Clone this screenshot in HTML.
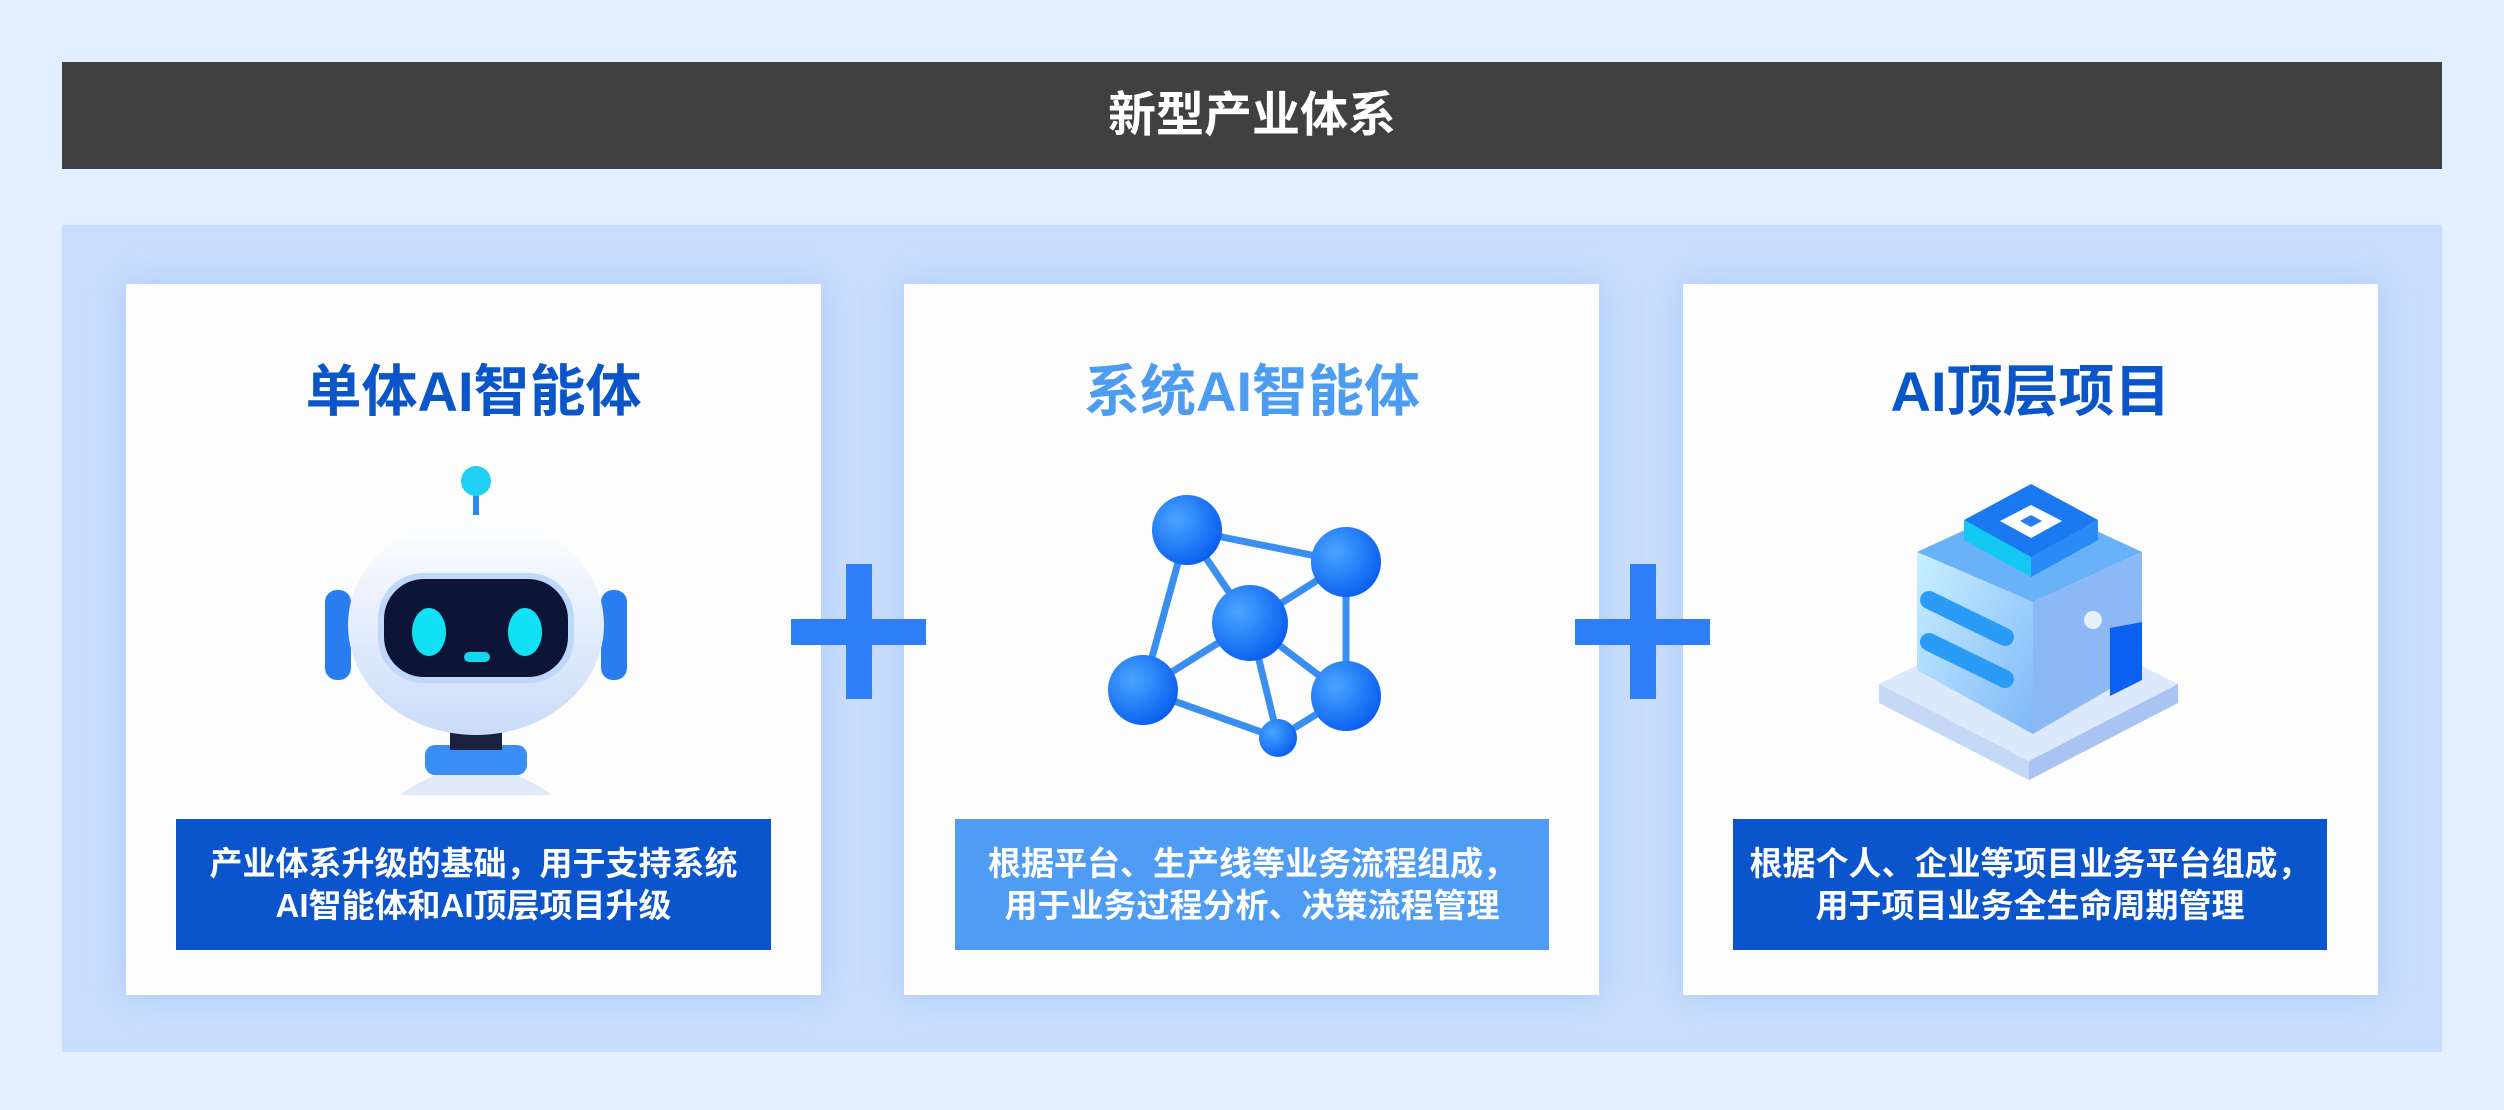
<!DOCTYPE html>
<html><head><meta charset="utf-8"><style>
body{margin:0;width:2504px;height:1110px;background:#e3eefe;position:relative;overflow:hidden;font-family:"Liberation Sans","Noto Sans CJK SC",sans-serif;}
.hdr{position:absolute;left:62px;top:62px;width:2380px;height:107px;background:#404040;color:#fff;font-size:48px;font-weight:bold;text-align:center;line-height:107px;}
.cont{position:absolute;left:62px;top:225px;width:2380px;height:827px;background:#c9ddfc;}
.card{position:absolute;top:284px;width:695px;height:711px;background:#fcfdfc;box-shadow:0 0 30px rgba(150,190,250,.6);}
.t{position:absolute;left:0;width:100%;top:360px;text-align:center;font-size:56px;font-weight:bold;line-height:64px;}
.box{position:absolute;top:819px;height:131px;color:#fff;font-size:33px;font-weight:bold;text-align:center;display:flex;align-items:center;justify-content:center;line-height:42px;white-space:nowrap;}
.pv{position:absolute;left:846px;top:564px;width:26px;height:135px;background:#2e7ef8;}
.ph{position:absolute;left:791px;top:619px;width:135px;height:26px;background:#2e7ef8;}
svg{position:absolute;left:0;top:0;}
</style></head><body>
<div class="hdr">新型产业体系</div>
<div class="cont"></div>
<div class="card" style="left:126px"></div>
<div class="card" style="left:904px"></div>
<div class="card" style="left:1683px"></div>
<div class="t" style="left:126px;width:695px;color:#0a55c8">单体AI智能体</div>
<div class="t" style="left:904px;width:696px;color:#4c9cf2">系统AI智能体</div>
<div class="t" style="left:1683px;width:695px;color:#0a55c8">AI顶层项目</div>
<div class="pv"></div><div class="ph"></div>
<div class="pv" style="left:1630px"></div><div class="ph" style="left:1575px"></div>
<div class="box" style="left:176px;width:595px;background:#0a54cc">产业体系升级的基础，用于支持系统<br>AI智能体和AI顶层项目升级</div>
<div class="box" style="left:955px;width:594px;background:#4f9cf5">根据平台、生产线等业务流程组成，<br>用于业务过程分析、决策流程管理</div>
<div class="box" style="left:1733px;width:594px;background:#0a54cc">根据个人、企业等项目业务平台组成，<br>用于项目业务全生命周期管理</div>
<svg width="2504" height="1110">
<defs>
<linearGradient id="hd" x1="0" y1="0" x2="0" y2="1"><stop offset="0" stop-color="#ffffff"/><stop offset="1" stop-color="#c9dcf8"/></linearGradient>
<radialGradient id="nd" cx="0.35" cy="0.35" r="0.7"><stop offset="0" stop-color="#4aa6ff"/><stop offset="1" stop-color="#0a5ef0"/></radialGradient>
<linearGradient id="bf" x1="0" y1="0" x2="1" y2="1"><stop offset="0" stop-color="#c9f0ff"/><stop offset="1" stop-color="#7fb8f8"/></linearGradient>
</defs>
<line x1="476" y1="485" x2="476" y2="530" stroke="#2a8af0" stroke-width="6"/>
<circle cx="476" cy="481" r="15" fill="#1fd0f4"/>
<path d="M400 795 Q476 740 552 795 Z" fill="#dfe9f8"/>
<rect x="425" y="745" width="102" height="30" rx="10" fill="#3a8df5"/>
<rect x="450" y="725" width="52" height="25" fill="#1a2240"/>
<rect x="325" y="590" width="26" height="90" rx="12" fill="#2a7df0"/>
<rect x="601" y="590" width="26" height="90" rx="12" fill="#2a7df0"/>
<ellipse cx="476" cy="625" rx="128" ry="110" fill="url(#hd)"/>
<rect x="378" y="573" width="196" height="110" rx="45" fill="#bfd7f8"/>
<rect x="384" y="579" width="184" height="98" rx="40" fill="#0c1538"/>
<ellipse cx="429" cy="632" rx="17" ry="24" fill="#10e2f4"/>
<ellipse cx="525" cy="632" rx="17" ry="24" fill="#10e2f4"/>
<rect x="464" y="652" width="26" height="10" rx="5" fill="#10d8f0"/>
<g stroke="#3a8ef0" stroke-width="7">
<line x1="1187" y1="530" x2="1346" y2="562"/><line x1="1187" y1="530" x2="1250" y2="623"/>
<line x1="1346" y1="562" x2="1250" y2="623"/><line x1="1143" y1="690" x2="1250" y2="623"/>
<line x1="1346" y1="696" x2="1250" y2="623"/><line x1="1143" y1="690" x2="1187" y2="530"/>
<line x1="1346" y1="562" x2="1346" y2="696"/><line x1="1143" y1="690" x2="1278" y2="738"/>
<line x1="1250" y1="623" x2="1278" y2="738"/><line x1="1278" y1="738" x2="1346" y2="696"/>
</g>
<g fill="url(#nd)">
<circle cx="1187" cy="530" r="35"/><circle cx="1346" cy="562" r="35"/><circle cx="1250" cy="623" r="38"/>
<circle cx="1143" cy="690" r="35"/><circle cx="1346" cy="696" r="35"/><circle cx="1278" cy="738" r="19"/>
</g>
<polygon points="1879,684 2029,610 2178,684 2029,761" fill="#dce9fb"/>
<polygon points="1879,684 2029,761 2029,780 1879,703" fill="#c5d8f6"/>
<polygon points="2029,761 2178,684 2178,703 2029,780" fill="#a9c4f2"/>
<polygon points="1917,552 2030,500 2142,552 2033,602" fill="#6ab2f8"/>
<polygon points="1917,552 2033,602 2033,734 1917,670" fill="url(#bf)"/>
<polygon points="2033,602 2142,552 2142,670 2033,734" fill="#8cb8f6"/>
<polygon points="1964,520 2031,484 2098,520 2031,557" fill="#1a78f0"/>
<polygon points="1964,520 2031,557 2031,577 1964,540" fill="#14c8f4"/>
<polygon points="2031,557 2098,520 2098,540 2031,577" fill="#2a8af6"/>
<polygon points="2000,521 2031,505 2062,521 2031,538" fill="#ffffff"/>
<polygon points="2020,521 2031,515 2042,521 2031,527" fill="#2a7af0"/>
<line x1="1929" y1="600" x2="2005" y2="637" stroke="#2b9cf6" stroke-width="18" stroke-linecap="round"/>
<line x1="1929" y1="642" x2="2005" y2="679" stroke="#2b9cf6" stroke-width="18" stroke-linecap="round"/>
<polygon points="2110,628 2142,622 2142,680 2110,696" fill="#0a60f0"/>
<circle cx="2093" cy="620" r="9" fill="#e8f0fc"/>
</svg>
</body></html>
